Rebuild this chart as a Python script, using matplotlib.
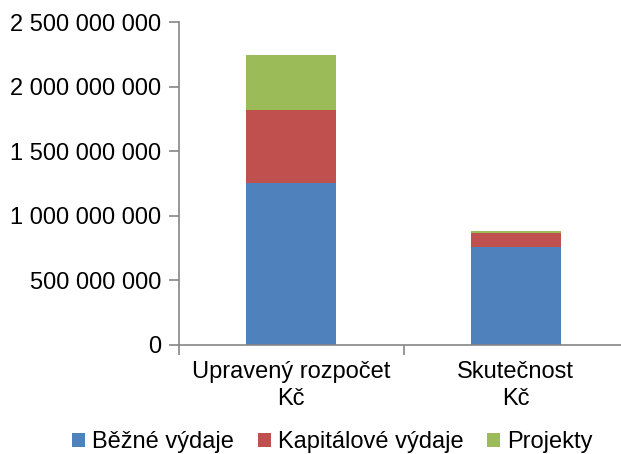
import numpy as np
import matplotlib.pyplot as plt
from matplotlib.ticker import FuncFormatter

plt.rcParams['font.family'] = ['Liberation Sans', 'DejaVu Sans']

categories = ['Upravený rozpočet\nKč', 'Skutečnost\nKč']
series_names = ['Běžné výdaje', 'Kapitálové výdaje', 'Projekty']
bezne = [1251000000, 755000000]
kapitalove = [566000000, 108000000]
projekty = [429000000, 22000000]
colors = ['#4F81BD', '#C0504D', '#9BBB59']

fig = plt.figure(figsize=(6.21, 4.54), dpi=100)
ax = fig.add_axes([179 / 621, (454 - 344.7) / 454, 449 / 621, (344.7 - 22.3) / 454])

x = np.arange(len(categories))
bottom = np.zeros(len(categories))
for vals, name, c in zip([bezne, kapitalove, projekty], series_names, colors):
    ax.bar(x, vals, width=0.4, bottom=bottom, color=c, label=name, zorder=2)
    bottom += np.array(vals)

ax.set_xlim(-0.5, 1.5)
ax.set_ylim(0, 2500000000)
ax.set_yticks(np.arange(0, 2500000001, 500000000))
ax.yaxis.set_major_formatter(FuncFormatter(lambda v, p: f'{int(v):,}'.replace(',', ' ')))

ax.set_xticks([-0.5, 0.5, 1.5])
ax.set_xticklabels([])
ax.set_xticks(x, minor=True)
ax.set_xticklabels(categories, minor=True, linespacing=1.25)
ax.tick_params(axis='x', which='minor', length=0, pad=12, labelsize=17)
ax.tick_params(axis='x', which='major', length=7, color='#868686', width=1.2)
ax.tick_params(axis='y', length=7, color='#868686', width=1.2, labelsize=17, pad=6)

for s in ['top', 'right']:
    ax.spines[s].set_visible(False)
for s in ['left', 'bottom']:
    ax.spines[s].set_color('#868686')
    ax.spines[s].set_linewidth(1.2)

fig.legend(loc='lower center', bbox_to_anchor=(0.535, -0.045), ncol=3, frameon=False,
           fontsize=17, handlelength=0.55, handleheight=0.55, handletextpad=0.3,
           columnspacing=1.0)

fig.savefig('out.png', dpi=100)
